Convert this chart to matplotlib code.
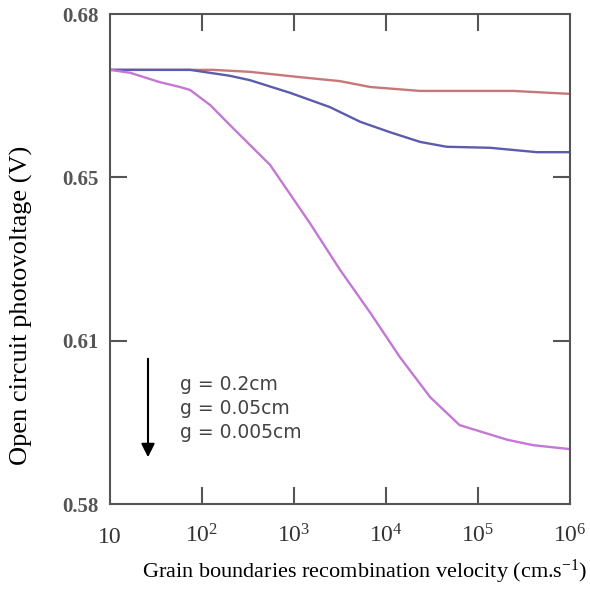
import matplotlib
matplotlib.use('Agg')
import matplotlib.pyplot as plt
from matplotlib.ticker import FixedLocator, FixedFormatter

# log10 of grain boundary recombination velocity and Voc
logsg_a = [1.0, 2.12, 2.52, 3.07, 3.5, 3.83, 4.37, 5.38, 6.0]
voc_a = [0.6686, 0.6686, 0.6682, 0.6671, 0.6663, 0.6651, 0.6643, 0.6643, 0.6637]

logsg_b = [1.0, 1.87, 2.3, 2.52, 2.96, 3.39, 3.72, 4.04, 4.37, 4.66, 5.13, 5.64, 6.0]
voc_b = [0.6686, 0.6686, 0.6674, 0.6665, 0.6639, 0.6610, 0.6580, 0.6559, 0.6539,
         0.6529, 0.6527, 0.6518, 0.6518]

logsg_c = [1.0, 1.22, 1.54, 1.76, 1.87, 2.09, 2.3, 2.52, 2.74, 3.17, 3.5, 3.83,
           4.15, 4.48, 4.8, 5.32, 5.6, 6.0]
voc_c = [0.6686, 0.6680, 0.6661, 0.6651, 0.6645, 0.6614, 0.6574, 0.6533, 0.6492,
         0.6374, 0.6278, 0.6190, 0.6100, 0.6018, 0.5961, 0.5931, 0.5920, 0.5912]

legend_lines = ['g = 0.2cm', 'g = 0.05cm', 'g = 0.005cm']
colors = ['#c77777', '#5c5cae', '#c577d6']

yticks = [0.58, 0.58 + 0.1 / 3, 0.58 + 0.2 / 3, 0.68]
ytick_labels = ['0.58', '0.61', '0.65', '0.68']
xtick_labels = ['10', r'$10^{2}$', r'$10^{3}$', r'$10^{4}$', r'$10^{5}$', r'$10^{6}$']

plt.rcParams['mathtext.fontset'] = 'custom'
plt.rcParams['mathtext.rm'] = 'Liberation Serif'
plt.rcParams['mathtext.it'] = 'Liberation Serif:italic'

fig = plt.figure(figsize=(5.9, 5.92), dpi=100)
ax = fig.add_axes([110 / 590, 1 - 504 / 592, 460 / 590, 490 / 592])

for xs, ys, c in zip([logsg_a, logsg_b, logsg_c], [voc_a, voc_b, voc_c], colors):
    ax.plot([10 ** v for v in xs], ys, color=c, lw=1.7)

ax.set_xscale('log')
ax.set_xlim(10, 1e6)
ax.set_ylim(0.58, 0.68)

ax.xaxis.set_major_locator(FixedLocator([10, 1e2, 1e3, 1e4, 1e5, 1e6]))
ax.xaxis.set_major_formatter(FixedFormatter(xtick_labels))
ax.xaxis.set_minor_locator(FixedLocator([]))
ax.yaxis.set_major_locator(FixedLocator(yticks))
ax.yaxis.set_major_formatter(FixedFormatter(ytick_labels))

for s in ax.spines.values():
    s.set_color('#555555')
    s.set_linewidth(1.5)

ax.tick_params(axis='both', direction='in', length=12, width=1.5, color='#555555',
               top=True, right=True)
ax.tick_params(axis='x', pad=28, labelsize=17, labelcolor='#333333')
ax.tick_params(axis='y', pad=8, labelsize=15, labelcolor='#555555')
for lab in ax.get_xticklabels():
    lab.set_fontfamily('Liberation Serif')
    lab.set_verticalalignment('baseline')
for lab in ax.get_yticklabels():
    lab.set_fontfamily('Liberation Serif')
    lab.set_fontweight('bold')

# hide the end ticks that sit on the spines
for t in [ax.xaxis.get_major_ticks()[0], ax.xaxis.get_major_ticks()[-1]]:
    t.tick1line.set_visible(False)
    t.tick2line.set_visible(False)
for t in [ax.yaxis.get_major_ticks()[0], ax.yaxis.get_major_ticks()[-1]]:
    t.tick1line.set_visible(False)
    t.tick2line.set_visible(False)

# annotation arrow and g labels
ax.annotate('', xy=(148, 592 - 460), xytext=(148, 592 - 356),
            xycoords='figure pixels', textcoords='figure pixels',
            arrowprops=dict(arrowstyle='-|>', color='black', lw=1.5,
                            mutation_scale=20))
for i, txt in enumerate(legend_lines):
    fig.text(180 / 590, 1 - (385 + 24 * i) / 592, txt, fontsize=13.5,
             family='DejaVu Sans', color='#444444', va='center', ha='left')

fig.text(365 / 590, 1 - 572 / 592, 'Grain boundaries recombination velocity (cm.s$^{-1}$)',
         fontsize=16, family='Liberation Serif', ha='center', va='center')
fig.text(21 / 590, 1 - 305 / 592, 'Open circuit photovoltage (V)', rotation=90,
         fontsize=19, family='Liberation Serif', ha='center', va='center')

fig.savefig('out.png', dpi=100)
